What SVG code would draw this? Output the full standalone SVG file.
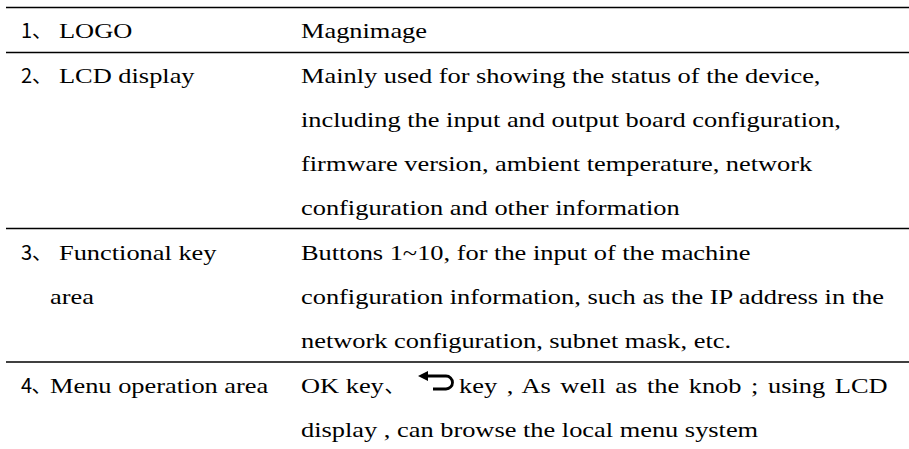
<svg xmlns="http://www.w3.org/2000/svg" width="909" height="449" viewBox="0 0 909 449">
  <style>
    .t { font-family: "Liberation Serif", "Times New Roman", serif; font-size: 22px; fill: #000; }
    .n { font-family: "Noto Sans CJK SC", "DejaVu Sans", sans-serif; font-size: 20px; fill: #000; }
    .rule { stroke: #000; stroke-width: 1.6; fill: none; }
  </style>
  <rect width="909" height="449" fill="#fff"/>

  <!-- table rules -->
  <g id="rules">
    <line class="rule" x1="6" y1="7.5" x2="909" y2="7.5"/>
    <line class="rule" x1="6" y1="52.5" x2="909" y2="52.5"/>
    <line class="rule" x1="6" y1="228.5" x2="909" y2="228.5"/>
    <line class="rule" x1="6" y1="362" x2="909" y2="362"/>
  </g>

  <!-- row 1 -->
  <g id="row-logo">
    <text class="n" x="21" y="38">1、</text>
    <text class="t" transform="translate(59 38) scale(1.2 1)">LOGO</text>
    <text class="t" transform="translate(301 38) scale(1.2 1)">Magnimage</text>
  </g>

  <!-- row 2 -->
  <g id="row-lcd">
    <text class="n" x="21" y="83">2、</text>
    <text class="t" transform="translate(59 83) scale(1.2 1)">LCD display</text>
    <text class="t" transform="translate(301 83) scale(1.2 1)">Mainly used for showing the status of the device,</text>
    <text class="t" transform="translate(301 127) scale(1.2 1)">including the input and output board configuration,</text>
    <text class="t" transform="translate(301 171) scale(1.2 1)">firmware version, ambient temperature, network</text>
    <text class="t" transform="translate(301 215) scale(1.2 1)">configuration and other information</text>
  </g>

  <!-- row 3 -->
  <g id="row-keys">
    <text class="n" x="21" y="260">3、</text>
    <text class="t" transform="translate(59 260) scale(1.2 1)">Functional key</text>
    <text class="t" transform="translate(50 304) scale(1.2 1)">area</text>
    <text class="t" transform="translate(301 260) scale(1.2 1)">Buttons 1~10, for the input of the machine</text>
    <text class="t" transform="translate(301 304) scale(1.2 1)">configuration information, such as the IP address in the</text>
    <text class="t" transform="translate(301 348) scale(1.2 1)">network configuration, subnet mask, etc.</text>
  </g>

  <!-- row 4 -->
  <g id="row-menu">
    <text class="n" x="21" y="393">4､</text>
    <text class="t" transform="translate(50 393) scale(1.2 1)">Menu operation area</text>
    <text class="t" transform="translate(301 393) scale(1.2 1)">OK key</text>
    <text class="n" x="385" y="393">､</text>
    <!-- return-key symbol -->
    <path d="M426 376 H446 A6.5 6.5 0 0 1 446 389 H433" fill="none" stroke="#000" stroke-width="2.8"/>
    <path d="M418 376 L428 371 L428 381 Z" fill="#000"/>
    <text class="t" transform="translate(459 393) scale(1.2 1)" word-spacing="2.5">key , As well as the knob ; using LCD</text>
    <text class="t" transform="translate(301 437) scale(1.2 1)">display , can browse the local menu system</text>
  </g>
</svg>
